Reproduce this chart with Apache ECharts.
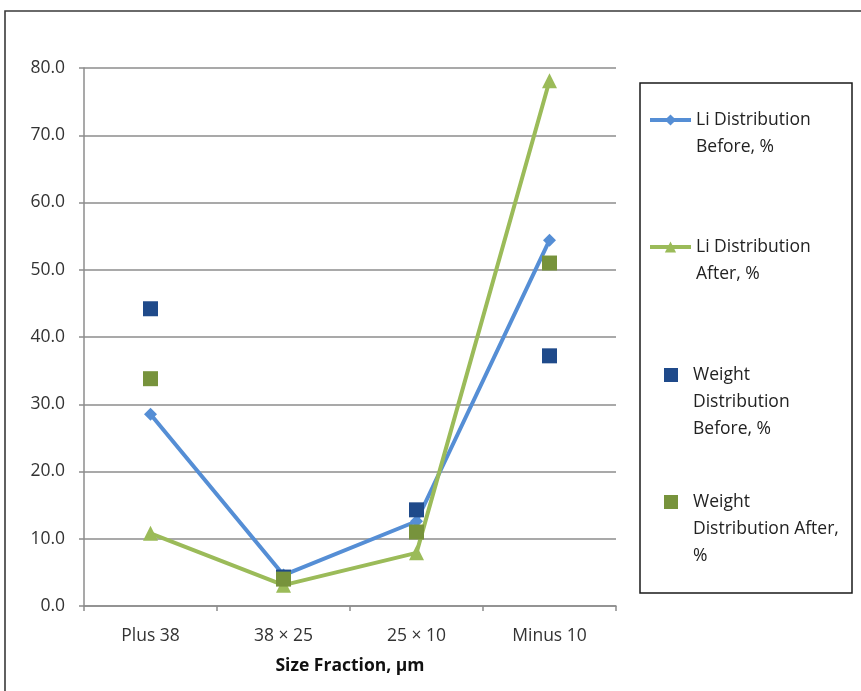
<!DOCTYPE html>
<html>
<head>
<meta charset="utf-8">
<script src="https://cdn.jsdelivr.net/npm/echarts@6/dist/echarts.min.js"></script>
<style>
  html, body { margin: 0; padding: 0; background: #ffffff; }
  #chart { width: 861px; height: 691px; }
</style>
</head>
<body>
<div id="chart"></div>
<script>
// ---- data ----
const categories = ['Plus 38', '38 \u00d7 25', '25 \u00d7 10', 'Minus 10'];
const liBefore = [28.5, 4.6, 12.6, 54.4];
const liAfter = [10.8, 3.1, 7.9, 78.1];
const weightBefore = [44.2, 4.3, 14.3, 37.2];
const weightAfter = [33.8, 4.0, 11.0, 51.0];
const yTicks = { min: 0, max: 80, interval: 10 };

const names = {
  liB: 'Li Distribution Before, %',
  liA: 'Li Distribution After, %',
  wB: 'Weight Distribution Before, %',
  wA: 'Weight Distribution After, %'
};
const legendText = {};
legendText[names.liB] = '\nLi Distribution\nBefore, %';
legendText[names.liA] = '\nLi Distribution\nAfter, %';
legendText[names.wB] = '\n\nWeight\nDistribution\nBefore, %';
legendText[names.wA] = '\n\nWeight\nDistribution After,\n%';

const FONT = '"Open Sans", "Noto Sans", sans-serif';
const FS = 17.5;
const LH = 27;

function legendFor(name, left, top, w, h, pad) {
  return {
    data: [name],
    orient: 'vertical',
    left: left,
    top: top,
    padding: 0,
    itemWidth: w,
    itemHeight: h,
    selectedMode: false,
    lineStyle: { width: 4 },
    itemStyle: { opacity: 1 },
    formatter: function (n) { return legendText[n]; },
    textStyle: {
      fontFamily: FONT, fontSize: FS, lineHeight: LH, color: '#222',
      padding: [0, 0, 0, pad]
    }
  };
}

const chart = echarts.init(document.getElementById('chart'), null, { renderer: 'canvas' });
chart.setOption({
  animation: false,
  backgroundColor: '#ffffff',
  textStyle: { fontFamily: FONT },
  grid: { left: 84, right: 245, top: 68, bottom: 85, containLabel: false },
  graphic: [
    { type: 'rect', silent: true, shape: { x: 5, y: 11, width: 900, height: 720 },
      style: { fill: 'none', stroke: '#3a3a3a', lineWidth: 1.6 } },
    { type: 'rect', silent: true, shape: { x: 640, y: 83, width: 212, height: 510 },
      style: { fill: 'none', stroke: '#1a1a1a', lineWidth: 1.5 } }
  ],
  legend: [
    legendFor(names.liB, 648, 120 - 1.5 * LH, 41, 14, 0),
    legendFor(names.liA, 648, 247 - 1.5 * LH, 41, 14, 0),
    legendFor(names.wB, 664, 375 - 2.5 * LH, 14, 14, 10),
    legendFor(names.wA, 664, 502 - 2.5 * LH, 14, 14, 10)
  ],
  xAxis: {
    type: 'category',
    data: categories,
    boundaryGap: true,
    name: 'Size Fraction, \u03bcm',
    nameLocation: 'middle',
    nameGap: 51,
    nameTextStyle: { fontFamily: FONT, fontSize: 17.5, fontWeight: 'bold', color: '#111' },
    axisLine: { lineStyle: { color: '#8c8c8c', width: 1.5 } },
    axisTick: { show: true, length: 5, lineStyle: { color: '#8c8c8c', width: 1.5 } },
    axisLabel: { fontFamily: FONT, fontSize: FS, color: '#333', margin: 21 },
    splitLine: { show: false }
  },
  yAxis: {
    type: 'value',
    min: yTicks.min,
    max: yTicks.max,
    interval: yTicks.interval,
    axisLine: { show: true, lineStyle: { color: '#8c8c8c', width: 1.5 } },
    axisTick: { show: true, length: 5, lineStyle: { color: '#8c8c8c', width: 1.5 } },
    axisLabel: { fontFamily: FONT, fontSize: FS, color: '#333', margin: 19,
      formatter: function (v) { return v.toFixed(1); } },
    splitLine: { show: true, lineStyle: { color: '#8c8c8c', width: 1.5 } }
  },
  series: [
    {
      name: names.liB, type: 'line', data: liBefore,
      symbol: 'diamond', symbolSize: 13,
      itemStyle: { color: '#558ed5', opacity: 1 },
      lineStyle: { color: '#558ed5', width: 4 },
      z: 2
    },
    {
      name: names.liA, type: 'line', data: liAfter,
      symbol: 'triangle', symbolSize: 15,
      itemStyle: { color: '#9bbb59', opacity: 1 },
      lineStyle: { color: '#9bbb59', width: 4 },
      z: 2
    },
    {
      name: names.wB, type: 'scatter', data: weightBefore,
      symbol: 'rect', symbolSize: 15,
      itemStyle: { color: '#1f4a8a', opacity: 1 },
      z: 3
    },
    {
      name: names.wA, type: 'scatter', data: weightAfter,
      symbol: 'rect', symbolSize: 15,
      itemStyle: { color: '#77933c', opacity: 1 },
      z: 3
    }
  ]
});
</script>
</body>
</html>
